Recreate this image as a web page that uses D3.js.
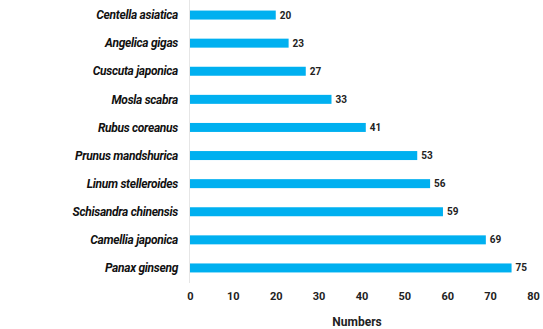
<!DOCTYPE html>
<head>
  <meta charset="utf-8">
  <script src="https://d3js.org/d3.v7.min.js"></script>
  <style>
    body { margin:0; background:#fff; }
    text { font-family: Roboto, "Open Sans", sans-serif; }
  </style>
</head>
<body>
  <script>
    var species = ["Centella asiatica", "Angelica gigas", "Cuscuta japonica", "Mosla scabra",
      "Rubus coreanus", "Prunus mandshurica", "Linum stelleroides", "Schisandra chinensis",
      "Camellia japonica", "Panax ginseng"];
    var counts = [20, 23, 27, 33, 41, 53, 56, 59, 69, 75];
    var ticks = [0, 10, 20, 30, 40, 50, 60, 70, 80];

    var svg = d3.select("body").append("svg")
      .attr("width", 543)
      .attr("height", 329);

    var x = d3.scaleLinear().domain([0, 80]).range([190, 533]);
    var y = d3.scaleBand().domain(species).range([1, 282])
      .paddingInner(0.68).paddingOuter(0.34);

    // faint left axis line
    svg.append("line")
      .attr("x1", x(0) - 0.5).attr("x2", x(0) - 0.5)
      .attr("y1", 0).attr("y2", 283)
      .attr("stroke", "#e6e6e6");

    svg.selectAll("rect.bar")
      .data(species)
      .enter()
      .append("rect")
      .attr("class", "bar")
      .attr("x", x(0))
      .attr("y", function (d) { return y(d); })
      .attr("width", function (d, i) { return x(counts[i]) - x(0); })
      .attr("height", y.bandwidth())
      .attr("fill", "#00b0f0");

    svg.selectAll("text.val")
      .data(species)
      .enter()
      .append("text")
      .attr("class", "val")
      .attr("x", function (d, i) { return x(counts[i]) + 4; })
      .attr("y", function (d) { return y(d) + y.bandwidth() / 2; })
      .attr("dy", "0.35em")
      .attr("font-size", 10)
      .attr("font-weight", "bold")
      .attr("fill", "#222")
      .text(function (d, i) { return counts[i]; });

    svg.selectAll("text.cat")
      .data(species)
      .enter()
      .append("text")
      .attr("class", "cat")
      .attr("x", 178)
      .attr("y", function (d) { return y(d) + y.bandwidth() / 2; })
      .attr("dy", "0.35em")
      .attr("text-anchor", "end")
      .attr("font-size", 12)
      .attr("font-weight", "bold")
      .attr("font-style", "italic")
      .attr("letter-spacing", -0.3)
      .attr("fill", "#111")
      .text(function (d) { return d; });

    var axis = svg.append("g")
      .attr("transform", "translate(0,292)")
      .call(d3.axisBottom(x).tickValues(ticks).tickSize(0).tickPadding(0));
    axis.select(".domain").remove();
    axis.selectAll("text")
      .attr("font-size", 11)
      .attr("font-weight", "bold")
      .attr("fill", "#222")
      .style("font-family", "Roboto, \"Open Sans\", sans-serif");

    svg.append("text")
      .attr("x", 357)
      .attr("y", 326)
      .attr("text-anchor", "middle")
      .attr("font-size", 12)
      .attr("font-weight", "bold")
      .attr("fill", "#222")
      .text("Numbers");
  </script>
</body>
